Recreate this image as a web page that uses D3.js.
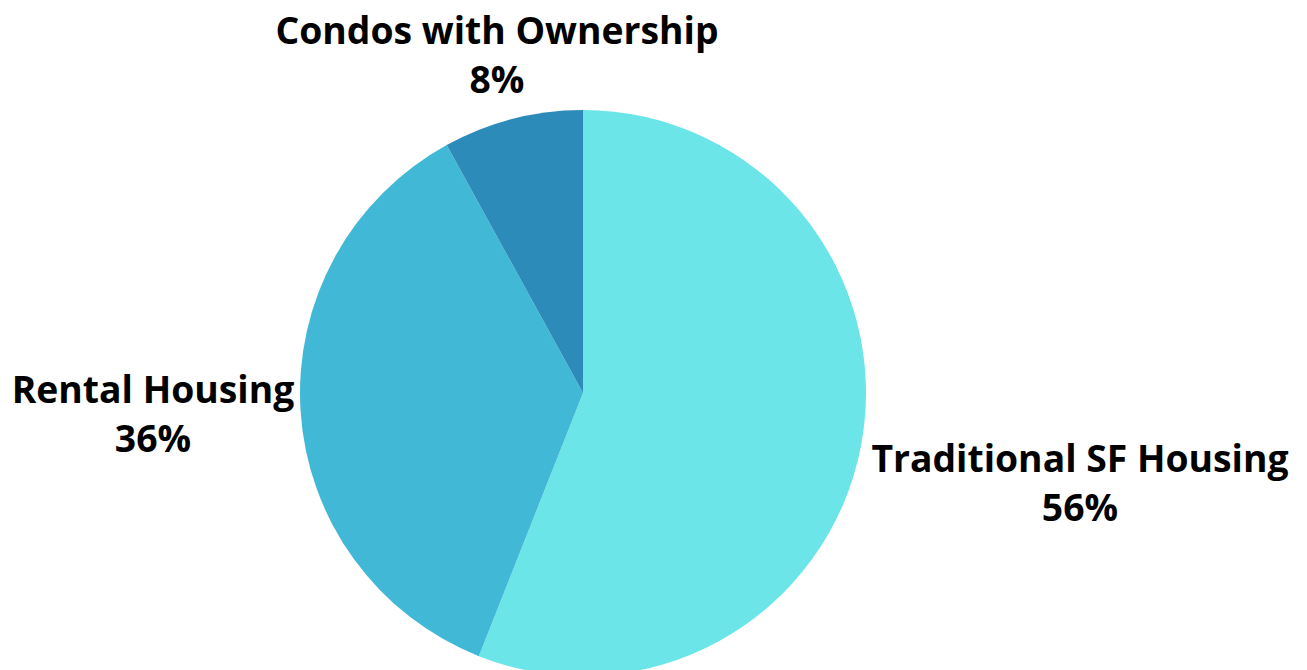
<!DOCTYPE html>
<html>
<head>
<meta charset="utf-8">
<script src="https://cdn.jsdelivr.net/npm/d3@7/dist/d3.min.js"></script>
<style>
  html, body { margin: 0; padding: 0; background: #ffffff; }
  svg { display: block; }
  text { font-family: "Open Sans", sans-serif; font-weight: 700; fill: #000; }
</style>
</head>
<body>
<svg id="chart" width="1307" height="670"></svg>
<script>
// Housing mix shares (percent)
const categories = ["Traditional SF Housing", "Rental Housing", "Condos with Ownership"];
const shares = [56, 36, 8];
const colors = ["#6ce5e8", "#41b8d5", "#2d8bba"];

const width = 1307, height = 670;
const cx = 583, cy = 393, radius = 283;

// Label anchors (center x, first baseline y) for each slice
const labelPos = [[1080, 472], [153, 403], [497, 44]];
const lineGap = 49;

const svg = d3.select("#chart");
const g = svg.append("g").attr("transform", `translate(${cx},${cy})`);

const pie = d3.pie().sort(null).value(d => d)(shares);
const arc = d3.arc().innerRadius(0).outerRadius(radius);

g.selectAll("path")
  .data(pie)
  .join("path")
  .attr("d", arc)
  .attr("fill", (d, i) => colors[i]);

const labels = svg.selectAll("text.label")
  .data(pie)
  .join("text")
  .attr("class", "label")
  .attr("text-anchor", "middle")
  .attr("font-size", 37.3);

labels.append("tspan")
  .attr("x", (d, i) => labelPos[i][0])
  .attr("y", (d, i) => labelPos[i][1])
  .text((d, i) => categories[i]);

labels.append("tspan")
  .attr("x", (d, i) => labelPos[i][0])
  .attr("y", (d, i) => labelPos[i][1] + lineGap)
  .text(d => d.data + "%");
</script>
</body>
</html>
